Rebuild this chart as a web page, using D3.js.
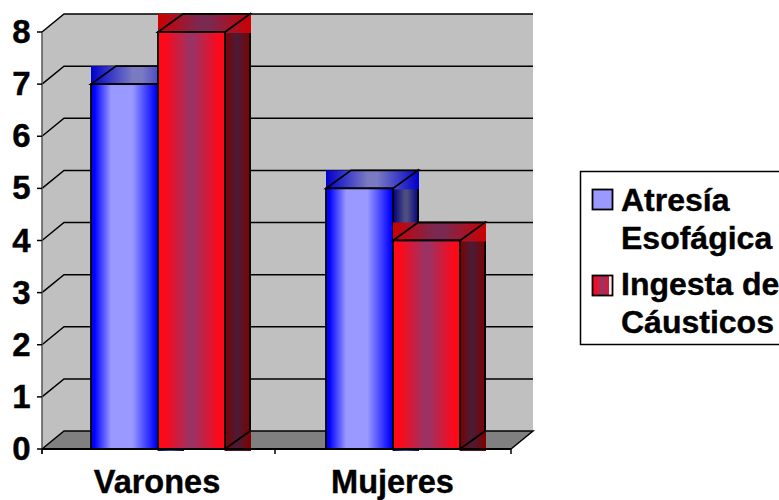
<!DOCTYPE html>
<html>
<head>
<meta charset="utf-8">
<style>
  html, body { margin: 0; padding: 0; background: #fff; }
  svg { display: block; }
  text { font-family: "Liberation Sans", Arial, sans-serif; font-weight: 700; fill: #000; stroke: #000; stroke-width: 0.4px; }
</style>
<script src="https://cdn.jsdelivr.net/npm/d3@7/dist/d3.min.js"></script>
</head>
<body>
<script>
const categories = ["Varones", "Mujeres"];
const seriesNames = ["Atresía Esofágica", "Ingesta de Cáusticos"];
const atresia = [7, 5];
const ingesta = [8, 4];
const yTicks = [0, 1, 2, 3, 4, 5, 6, 7, 8];

const width = 779, height = 500;
const floorY = 449, topY = 32, leftX = 42, rightX = 511;
const wallDx = 22, wallDy = 18, barDx = 25, barDy = 18;
const barW = 67;

const y = d3.scaleLinear().domain([0, 8]).range([floorY, topY]);
const xCenter = d3.scaleOrdinal().domain(categories).range([158, 393]);
const catEdges = [leftX, 275, rightX];

const svg = d3.select("body").append("svg").attr("width", width).attr("height", height);
const defs = svg.append("defs");

// Horizontal shading for bar faces: edge colour held to a, highlight held from b to c, edge from d
function shade(id, edge, mid, a, b, c, d) {
  const g = defs.append("linearGradient").attr("id", id)
    .attr("x1", 0).attr("x2", 1).attr("y1", 0).attr("y2", 0);
  [[0, edge], [a, edge], [b, mid], [c, mid], [d, edge], [1, edge]].forEach(([o, col]) => {
    g.append("stop").attr("offset", o).attr("stop-color", col);
  });
}
const palettes = [
  { front: ["#0000ff", "#9999ff", 0.05, 0.3, 0.62, 0.97], top: ["#0000cc", "#7a7ac2", 0, 0.45, 0.55, 1], side: ["#000080", "#4d4d80", 0, 0.45, 0.55, 1] },
  { front: ["#ff0818", "#993366", 0.1, 0.48, 0.52, 0.92], top: ["#cc0000", "#7a2952", 0, 0.45, 0.55, 1], side: ["#800000", "#4d1a33", 0, 0.4, 0.5, 1] }
];
palettes.forEach((p, i) => {
  ["front", "top", "side"].forEach(k => shade(`${k}${i}`, ...p[k]));
});

const pts = a => a.map(p => p.join(",")).join(" ");

// Walls and floor
svg.append("polygon").attr("fill", "#c0c0c0")
  .attr("points", pts([[leftX, floorY], [leftX, topY], [leftX + wallDx, topY - wallDy],
    [rightX + wallDx, topY - wallDy], [rightX + wallDx, floorY - wallDy], [leftX + wallDx, floorY - wallDy]]));
svg.append("polygon").attr("fill", "#808080")
  .attr("points", pts([[leftX, floorY], [leftX + wallDx, floorY - wallDy],
    [rightX + wallDx, floorY - wallDy], [rightX, floorY]]));

// Gridlines wrap from the side wall onto the back wall
const grid = svg.append("g").attr("fill", "none").attr("stroke", "#000").attr("stroke-width", 1.5);
yTicks.forEach(v => {
  grid.append("polyline").attr("points", pts([[leftX, y(v)], [leftX + wallDx, y(v) - wallDy],
    [rightX + wallDx, y(v) - wallDy]].concat(v === 0 ? [[rightX, floorY]] : [])));
});
grid.append("line").attr("x1", leftX).attr("x2", leftX).attr("y1", topY).attr("y2", floorY + 5)
  .attr("stroke", "#555");

// Bars: side face first, then top, then front
function drawBar(g, x0, value, s) {
  const yTop = y(value), yBase = y(0);
  const x1 = x0 + barW, xb = x1 + barDx;
  g.append("rect").attr("x", x1).attr("y", yTop).attr("width", barDx + 1)
    .attr("height", yBase + 2 - yTop).attr("fill", `url(#side${s})`);
  g.append("polygon").attr("fill", "none").attr("stroke", "#000").attr("stroke-width", 1.8)
    .attr("points", pts([[x1, yBase], [xb, yBase - barDy], [xb, yTop - barDy], [x1, yTop]]));
  g.append("rect").attr("x", x0).attr("y", yTop - barDy).attr("width", barW + barDx + 1)
    .attr("height", barDy + 1).attr("fill", `url(#top${s})`);
  g.append("polygon").attr("fill", "none").attr("stroke", "#000").attr("stroke-width", 1.8)
    .attr("points", pts([[x0, yTop], [x0 + barDx, yTop - barDy], [xb, yTop - barDy], [x1, yTop]]));
  g.append("rect").attr("x", x0).attr("y", yTop).attr("width", barW)
    .attr("height", yBase - yTop).attr("fill", `url(#front${s})`)
    .attr("stroke", "#000").attr("stroke-width", 1.8);
}
const bars = svg.append("g");
categories.forEach((c, i) => {
  drawBar(bars, xCenter(c) - barW, atresia[i], 0);
  drawBar(bars, xCenter(c), ingesta[i], 1);
});

// Axes
const axes = svg.append("g").attr("stroke", "#000").attr("stroke-width", 1.5);
axes.append("line").attr("x1", leftX).attr("x2", rightX).attr("y1", floorY).attr("y2", floorY).attr("stroke-width", 2);
yTicks.forEach(v => {
  axes.append("line").attr("x1", leftX - 5).attr("x2", leftX).attr("y1", y(v)).attr("y2", y(v));
  svg.append("text").attr("x", 30.5).attr("y", y(v) + 11).attr("text-anchor", "end")
    .attr("font-size", 33).text(v);
});
catEdges.forEach(x => {
  axes.append("line").attr("x1", x).attr("x2", x).attr("y1", floorY).attr("y2", floorY + 5);
});
categories.forEach(c => {
  svg.append("text").attr("x", c === categories[0] ? 157 : 392.5).attr("y", 493).attr("text-anchor", "middle")
    .attr("font-size", 32.5).text(c);
});

// Legend
const legend = svg.append("g");
legend.append("rect").attr("x", 580.5).attr("y", 171.5).attr("width", 205).attr("height", 173)
  .attr("fill", "#fff").attr("stroke", "#000").attr("stroke-width", 1.5);
legend.append("rect").attr("x", 592.5).attr("y", 189.5).attr("width", 20).attr("height", 20)
  .attr("fill", palettes[0].front[1]).attr("stroke", "#000").attr("stroke-width", 1.8);
legend.append("rect").attr("x", 592.5).attr("y", 275.5).attr("width", 20).attr("height", 20)
  .attr("fill", "url(#front1)").attr("stroke", "#000").attr("stroke-width", 1.8);
legend.append("rect").attr("x", 609).attr("y", 276.5).attr("width", 2.5).attr("height", 18).attr("fill", "#fff");
const legendLines = [
  [seriesNames[0].split(" ")[0], 211],
  [seriesNames[0].split(" ")[1], 249],
  [seriesNames[1].split(" de ")[0] + " de", 295],
  [seriesNames[1].split(" de ")[1], 333]
];
legendLines.forEach(([t, by]) => {
  legend.append("text").attr("x", 621).attr("y", by).attr("font-size", 32).text(t);
});
</script>
</body>
</html>
